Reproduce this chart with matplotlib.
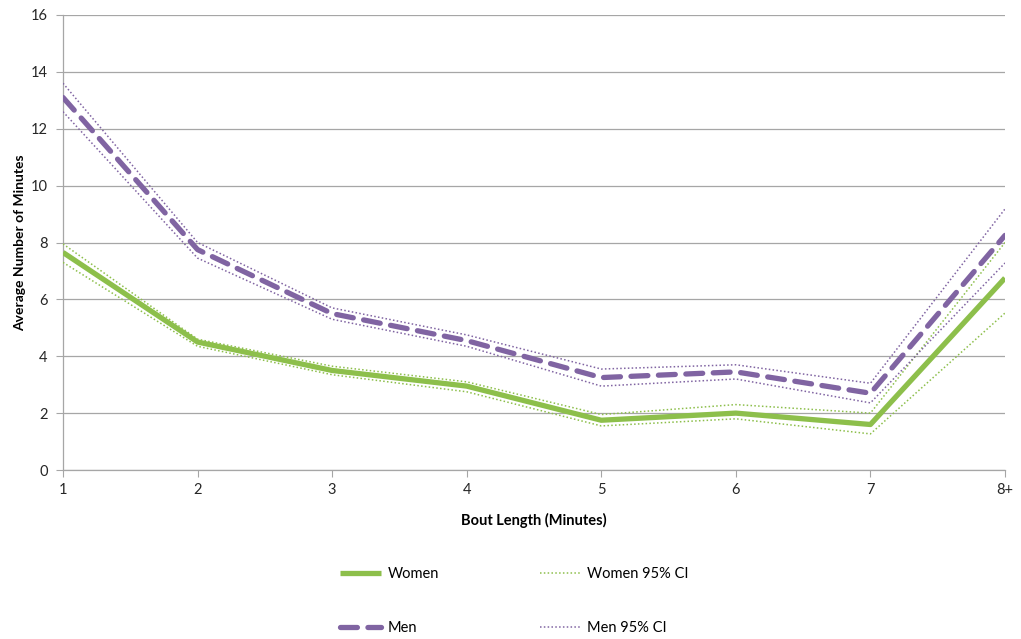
import matplotlib
matplotlib.use("Agg")
import matplotlib.pyplot as plt

# Data
bout_labels = ["1", "2", "3", "4", "5", "6", "7", "8+"]
women = [7.65, 4.5, 3.5, 2.95, 1.75, 2.0, 1.6, 6.75]
women_upper = [7.95, 4.6, 3.65, 3.1, 1.95, 2.3, 2.0, 8.0]
women_lower = [7.3, 4.35, 3.35, 2.75, 1.55, 1.8, 1.27, 5.52]
men = [13.1, 7.75, 5.5, 4.55, 3.25, 3.45, 2.7, 8.25]
men_upper = [13.6, 8.0, 5.7, 4.75, 3.55, 3.7, 3.05, 9.18]
men_lower = [12.6, 7.45, 5.3, 4.35, 2.95, 3.2, 2.36, 7.28]

green = "#8DBF4B"
purple = "#8064A2"
grid_gray = "#A6A6A6"

plt.rcParams['font.family'] = ['Lato', 'DejaVu Sans']

fig = plt.figure(figsize=(10.21, 6.39), dpi=100)
ax = fig.add_axes([63 / 1021, 1 - 470 / 639, (1005 - 63) / 1021, (470 - 15) / 639])

x = list(range(len(bout_labels)))

ax.plot(x, women, color=green, linewidth=3.8, solid_capstyle="butt", label="Women", zorder=4)
ax.plot(x, men, color=purple, linewidth=3.8, dashes=(3.2, 2.0), dash_capstyle="round",
        label="Men", zorder=5)
ax.plot(x, women_upper, color=green, linewidth=1.1, linestyle=(0, (1, 1.5)),
        label="Women 95% CI", zorder=3)
ax.plot(x, women_lower, color=green, linewidth=1.1, linestyle=(0, (1, 1.5)), zorder=3)
ax.plot(x, men_upper, color=purple, linewidth=1.1, linestyle=(0, (1, 1.5)),
        label="Men 95% CI", zorder=3)
ax.plot(x, men_lower, color=purple, linewidth=1.1, linestyle=(0, (1, 1.5)), zorder=3)

ax.set_xlim(0, len(bout_labels) - 1)
ax.set_ylim(0, 16)
ax.set_yticks(range(0, 17, 2))
ax.set_xticks(x)
ax.set_xticklabels(bout_labels)

ax.grid(axis="y", color=grid_gray, linewidth=0.9)
ax.set_axisbelow(True)
for side in ["top", "right"]:
    ax.spines[side].set_visible(False)
for side in ["left", "bottom"]:
    ax.spines[side].set_color(grid_gray)
    ax.spines[side].set_linewidth(0.9)

ax.tick_params(axis="x", direction="out", length=5, color=grid_gray, labelsize=10.5,
               labelcolor="#262626", pad=4)
ax.tick_params(axis="y", length=5, color=grid_gray, labelsize=10.5,
               labelcolor="#262626", pad=6)

ax.set_xlabel("Bout Length (Minutes)", fontsize=10.5, fontweight="bold", labelpad=12)
ax.set_ylabel("Average Number of Minutes", fontsize=10, fontweight="bold", labelpad=3)

handles, labels = ax.get_legend_handles_labels()
fig.legend(handles, labels,
           loc="upper left", bbox_to_anchor=(327 / 1021, 1 - 554 / 639),
           ncol=2, frameon=False, fontsize=10.5, handlelength=2.8,
           columnspacing=6.9, labelspacing=2.75, handletextpad=0.45)

fig.savefig("out.png", dpi=100)
